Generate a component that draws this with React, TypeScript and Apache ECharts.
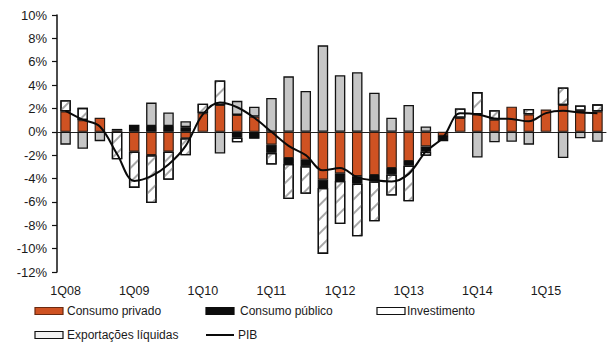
import React, { useEffect, useRef } from "react";
import * as echarts from "echarts";

// Contributions to real GDP growth (y/y, percentage points), 1Q08–4Q15
const quarters = [
  "1Q08", "2Q08", "3Q08", "4Q08",
  "1Q09", "2Q09", "3Q09", "4Q09",
  "1Q10", "2Q10", "3Q10", "4Q10",
  "1Q11", "2Q11", "3Q11", "4Q11",
  "1Q12", "2Q12", "3Q12", "4Q12",
  "1Q13", "2Q13", "3Q13", "4Q13",
  "1Q14", "2Q14", "3Q14", "4Q14",
  "1Q15", "2Q15", "3Q15", "4Q15",
];

const consumoPrivado = [
  1.75, 1.0, 1.2, 0.1,
  -1.7, -2.0, -1.7, -0.55,
  1.6, 2.3, 1.45, 1.3,
  -1.1, -2.25, -2.4, -4.1,
  -3.55, -3.8, -3.7, -3.1,
  -2.5, -1.25, -0.35, 1.2,
  1.5, 1.05, 2.15, 1.5,
  1.9, 2.3, 1.8, 1.75,
];

const consumoPublico = [
  0, 0, 0, 0.15,
  0.6, 0.5, 0.5, 0.4,
  0, 0, -0.5, -0.6,
  -0.7, -0.5, -0.55, -0.7,
  -0.65, -0.65, -0.55, -0.55,
  -0.4, -0.45, -0.45, 0,
  0, 0, 0, 0,
  0, 0, 0, 0,
];

const investimento = [
  0.95, 1.05, 0, -2.35,
  -3.1, -4.1, -2.4, -1.45,
  0.8, 2.1, -0.4, 0,
  -1.0, -3.0, -2.35, -5.65,
  -3.7, -4.5, -3.4, -1.8,
  -3.05, -0.35, 0, 0.8,
  1.9, 0.8, 0, 0.45,
  0, 1.5, 0.45, 0.6,
];

const exportacoesLiquidas = [
  -1.1, -1.45, -0.8, 0,
  0, 2.0, 1.15, 0.5,
  0, -1.85, 1.2, 0.85,
  2.9, 4.75, 3.5, 7.4,
  4.85, 5.1, 3.35, 1.2,
  2.3, 0.45, 0, 0,
  -2.2, -0.9, -0.85, -1.1,
  0, -2.25, -0.55, -0.85,
];

const pib = [
  1.8, 1.05, 0.45, -1.9,
  -4.2, -3.8, -2.8, -1.2,
  1.5, 2.5, 2.1, 1.2,
  0.0, -1.2, -2.0, -3.3,
  -3.1, -3.9, -4.15, -4.25,
  -3.6, -1.7, -0.5, 1.6,
  1.5, 1.15, 1.1, 0.9,
  1.6, 1.8, 1.65, 1.6,
];

const yTicks = { min: -12, max: 10, interval: 2 };

const ORANGE = "#cf5222";
const GRAY = "#c6c6c6";
const FONT = "Liberation Sans, Arial, sans-serif";

const nz = (arr: number[]) => arr.map((v) => (v === 0 ? null : v));

// light "/" hatching for the investment bars
const hatch = {
  symbol: "rect",
  symbolSize: 1,
  color: "#a8a8a8",
  backgroundColor: "#ffffff",
  dashArrayX: [1, 0],
  dashArrayY: [1.2, 8],
  rotation: -Math.PI / 4,
};

export default function App() {
  const ref = useRef<HTMLDivElement>(null);

  useEffect(() => {
    if (!ref.current) return;
    const chart = echarts.init(ref.current, null, { renderer: "svg" });

    const barBase = {
      type: "bar",
      stack: "contrib",
      xAxisIndex: 0,
      yAxisIndex: 0,
      barWidth: 10.5,
      z: 2,
    };

    const legendRow1 = 311;
    const legendRow2 = 335;
    const iconW = 28;
    const iconH = 7;
    const legendText = (x: number, y: number, text: string) => ({
      type: "text",
      x,
      y,
      style: {
        text,
        font: `12px ${FONT}`,
        fill: "#1a1a1a",
        verticalAlign: "middle",
        align: "left",
      },
    });
    const legendBox = (x: number, y: number, fill: string, stroke: string) => ({
      type: "rect",
      shape: { x, y: y - iconH / 2, width: iconW, height: iconH },
      style: { fill, stroke, lineWidth: 1.2 },
    });

    chart.setOption({
      animation: false,
      backgroundColor: "#ffffff",
      textStyle: { fontFamily: FONT },
      grid: { left: 57, right: 6, top: 15, bottom: 73, containLabel: false },
      xAxis: [
        {
          type: "category",
          data: quarters,
          position: "bottom",
          axisLine: { show: false, onZero: false },
          axisTick: { show: false },
          axisLabel: {
            interval: 3,
            margin: 12,
            fontSize: 12.5,
            color: "#1a1a1a",
            fontFamily: FONT,
          },
          splitLine: { show: false },
        },
        {
          type: "category",
          data: quarters,
          position: "bottom",
          axisLine: { show: true, onZero: true, lineStyle: { color: "#222", width: 1 } },
          axisTick: { show: false },
          axisLabel: { show: false },
          splitLine: { show: false },
        },
      ],
      yAxis: {
        type: "value",
        min: yTicks.min,
        max: yTicks.max,
        interval: yTicks.interval,
        axisLine: { show: true, lineStyle: { color: "#111", width: 1.5 } },
        axisTick: { show: true, length: 5, lineStyle: { color: "#111", width: 1.2 } },
        axisLabel: {
          formatter: (v: number) => `${v}%`,
          fontSize: 13,
          color: "#1a1a1a",
          margin: 10,
          fontFamily: FONT,
        },
        splitLine: { show: false },
      },
      series: [
        {
          ...barBase,
          name: "Consumo privado",
          data: nz(consumoPrivado),
          itemStyle: { color: ORANGE, borderColor: "#2a1a12", borderWidth: 1.1 },
        },
        {
          ...barBase,
          name: "Consumo público",
          data: nz(consumoPublico),
          itemStyle: { color: "#0d0d0d", borderColor: "#0d0d0d", borderWidth: 1.1 },
        },
        {
          ...barBase,
          name: "Investimento",
          data: nz(investimento),
          itemStyle: { color: "#ffffff", borderColor: "#111", borderWidth: 1.3, decal: hatch },
        },
        {
          ...barBase,
          name: "Exportações líquidas",
          data: nz(exportacoesLiquidas),
          itemStyle: { color: GRAY, borderColor: "#111", borderWidth: 1.3 },
        },
        {
          type: "line",
          name: "PIB",
          data: pib,
          xAxisIndex: 0,
          yAxisIndex: 0,
          smooth: 0.35,
          symbol: "none",
          z: 5,
          lineStyle: { color: "#0a0a0a", width: 2 },
        },
      ],
      graphic: [
        legendBox(35, legendRow1, ORANGE, "#6b2a10"),
        legendText(67, legendRow1, "Consumo privado"),
        legendBox(206, legendRow1, "#0d0d0d", "#0d0d0d"),
        legendText(240, legendRow1, "Consumo público"),
        legendBox(377, legendRow1, "#ffffff", "#111"),
        legendText(407, legendRow1, "Investimento"),
        legendBox(35, legendRow2, "#f2f2f2", "#111"),
        legendText(67, legendRow2, "Exportações líquidas"),
        {
          type: "line",
          shape: { x1: 206, y1: legendRow2, x2: 234, y2: legendRow2 },
          style: { stroke: "#0a0a0a", lineWidth: 2 },
        },
        legendText(238, legendRow2, "PIB"),
      ],
    });

    return () => chart.dispose();
  }, []);

  return (
    <div
      ref={ref}
      style={{ position: "fixed", left: 0, top: 0, width: 612, height: 345, background: "#fff" }}
    />
  );
}
